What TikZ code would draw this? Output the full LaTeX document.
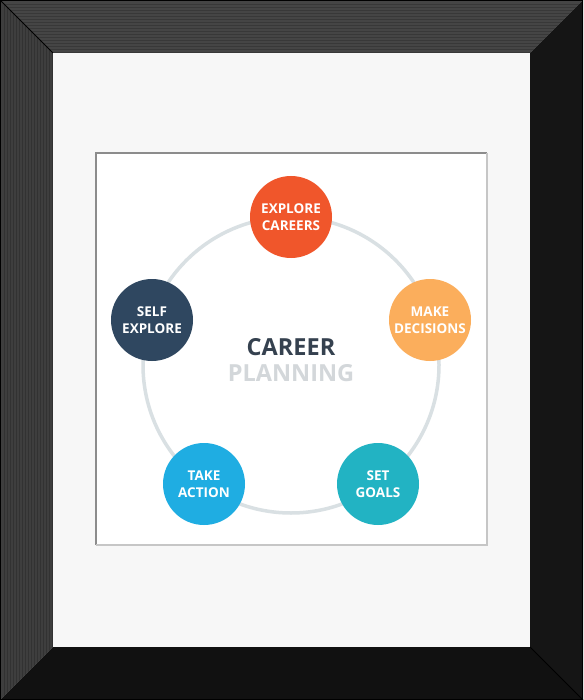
\documentclass[tikz,border=0pt]{standalone}
\usepackage{fontspec}
\setmainfont{Open Sans}
\usetikzlibrary{positioning}

\definecolor{frametop}{HTML}{454545}
\definecolor{frameside}{HTML}{3E3E3E}
\definecolor{framedark}{HTML}{151515}
\definecolor{matgray}{HTML}{F7F7F7}
\definecolor{ringgray}{HTML}{D9E0E3}
\definecolor{careerdark}{HTML}{35414F}
\definecolor{planlight}{HTML}{D3D7DA}
\definecolor{explorered}{HTML}{F0562B}
\definecolor{decideorange}{HTML}{FBAE5C}
\definecolor{selfnavy}{HTML}{2F4760}
\definecolor{actionblue}{HTML}{1FADE2}
\definecolor{goalteal}{HTML}{22B3C3}

\begin{document}
\begin{tikzpicture}[x=1pt, y=-1pt,
    stage/.style={circle, minimum size=82pt, inner sep=0pt, text=white,
      align=center, font=\bfseries\fontsize{13.5}{17}\selectfont},
    title/.style={font=\bfseries\fontsize{23.5}{28}\selectfont},
    grain/.style={black, opacity=0.18, line width=0.4pt}]
  \useasboundingbox (0,0) rectangle (583,700);

  % Frame
  \fill[frametop] (0,0) -- (583,0) -- (530,53) -- (53,53) -- cycle;
  \fill[frameside] (0,0) -- (53,53) -- (53,647) -- (0,700) -- cycle;
  \fill[framedark] (583,0) -- (583,700) -- (530,647) -- (530,53) -- cycle;
  \fill[framedark!80!black] (0,700) -- (583,700) -- (530,647) -- (53,647) -- cycle;
  \foreach \d in {4,7,...,52} {
    \draw[grain] (\d,\d) -- (583-\d,\d);
    \draw[grain] (\d,\d) -- (\d,700-\d);
  }
  \draw[black, line width=1pt] (0,0) -- (53,53);
  \draw[black, line width=0.8pt] (583,700) -- (530,647);
  \draw[black, line width=1.2pt] (0.5,0.5) rectangle (582.5,699.5);

  % Mat
  \fill[matgray] (53,53) rectangle (530,647);
  \fill[white] (96,153) rectangle (487,545);
  \draw[gray!90, line width=1.2pt] (96,545) -- (96,153) -- (487,153);
  \draw[gray!45, line width=1.2pt] (487,153) -- (487,545) -- (96,545);

  % Ring
  \coordinate (center) at (291,365);
  \draw[ringgray, line width=3.5pt] (center) circle (148pt);

  % Stages
  \node[stage, fill=explorered] (explore) at (291,217) {EXPLORE\\CAREERS};
  \node[stage, fill=decideorange] (decide) at (430,320) {MAKE\\DECISIONS};
  \node[stage, fill=goalteal] (goals) at (378,484) {SET\\GOALS};
  \node[stage, fill=actionblue] (action) at (204,484) {TAKE\\ACTION};
  \node[stage, fill=selfnavy] (self) at (152,320) {SELF\\EXPLORE};

  % Title
  \node[title, text=careerdark] (career) at (291,347) {CAREER};
  \node[title, text=planlight, below=2pt of career] (planning) {PLANNING};
\end{tikzpicture}
\end{document}
